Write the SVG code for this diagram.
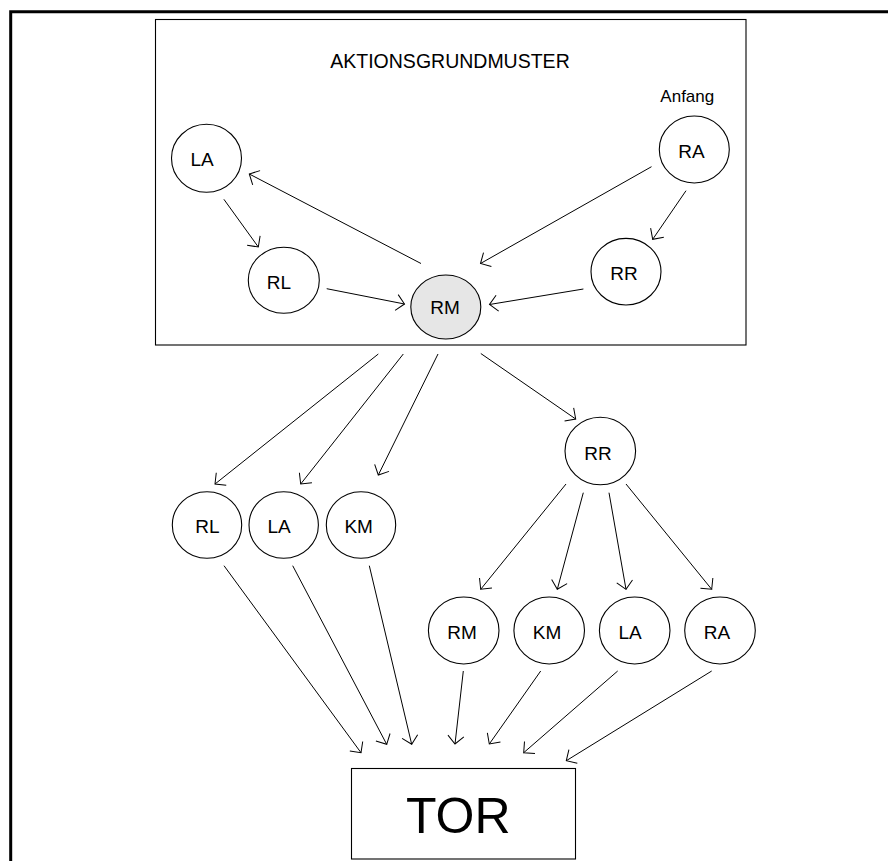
<svg xmlns="http://www.w3.org/2000/svg" width="888" height="861" viewBox="0 0 888 861">
<style>
.n{fill:#fff;stroke:#000;stroke-width:1.1}
.hl{fill:#e6e6e6}
.lb{font-family:"Liberation Sans",Arial,sans-serif;font-size:19px;text-anchor:middle;fill:#000}
.c line{stroke:#000;stroke-width:1;marker-end:url(#ah)}
.box{fill:none;stroke:#000;stroke-width:1.1}
</style>
<defs>
<marker id="ah" markerUnits="userSpaceOnUse" markerWidth="20" markerHeight="20" viewBox="-10 -10 20 20" refX="0" refY="0" orient="auto">
<path d="M-8,-8 L0,0 L-8,8" fill="none" stroke="#000" stroke-width="1"/>
</marker>
</defs>
<rect width="888" height="861" fill="#fff"/>
<path d="M10.7,861 V11.7 H888" fill="none" stroke="#000" stroke-width="3"/>

<g id="aktionsgrundmuster">
<rect class="box" x="155.5" y="19.5" width="590.5" height="325.5"/>
<text x="450" y="68.3" style="font-family:'Liberation Sans',Arial,sans-serif;font-size:19.5px;text-anchor:middle">AKTIONSGRUNDMUSTER</text>
<text x="687.3" y="101.5" style="font-family:'Liberation Sans',Arial,sans-serif;font-size:17px;text-anchor:middle">Anfang</text>
</g>

<g id="top-LA"><ellipse class="n" cx="206.5" cy="158.3" rx="35" ry="34"/><text class="lb" x="202" y="165.7">LA</text></g>
<g id="top-RL"><ellipse class="n" cx="283.8" cy="280.3" rx="35.5" ry="33"/><text class="lb" x="279" y="289">RL</text></g>
<g id="top-RM"><ellipse class="n hl" cx="445.8" cy="307" rx="35" ry="32"/><text class="lb" x="445" y="313.5">RM</text></g>
<g id="top-RA"><ellipse class="n" cx="694.3" cy="149.5" rx="35" ry="33.5"/><text class="lb" x="691.5" y="158.3">RA</text></g>
<g id="top-RR"><ellipse class="n" cx="626" cy="271.7" rx="35" ry="33.3"/><text class="lb" x="624" y="280">RR</text></g>

<g id="mid-RR"><ellipse class="n" cx="600.3" cy="451" rx="35.3" ry="33.8"/><text class="lb" x="598" y="460">RR</text></g>

<g id="row1-RL"><ellipse class="n" cx="207" cy="525" rx="34.7" ry="33.3"/><text class="lb" x="207.5" y="533.3">RL</text></g>
<g id="row1-LA"><ellipse class="n" cx="283.7" cy="525" rx="34.7" ry="33.3"/><text class="lb" x="279" y="533.3">LA</text></g>
<g id="row1-KM"><ellipse class="n" cx="361" cy="525" rx="34.7" ry="33.3"/><text class="lb" x="358.7" y="533.3">KM</text></g>

<g id="row2-RM"><ellipse class="n" cx="463.7" cy="630.5" rx="35.3" ry="33.5"/><text class="lb" x="462" y="639.3">RM</text></g>
<g id="row2-KM"><ellipse class="n" cx="549.2" cy="630.5" rx="35.3" ry="33.5"/><text class="lb" x="547" y="639.3">KM</text></g>
<g id="row2-LA"><ellipse class="n" cx="634.7" cy="630.5" rx="35.3" ry="33.5"/><text class="lb" x="630" y="639.3">LA</text></g>
<g id="row2-RA"><ellipse class="n" cx="720" cy="630.5" rx="35.3" ry="33.5"/><text class="lb" x="717" y="639.3">RA</text></g>

<g id="TOR"><rect class="box" x="351.5" y="768.5" width="224" height="90.5"/><text x="458.3" y="833.3" style="font-family:'Liberation Sans',Arial,sans-serif;font-size:50px;text-anchor:middle">TOR</text></g>

<g id="connectors" class="c">
<line x1="223.9" y1="199.3" x2="258.3" y2="247"/>
<line x1="421" y1="263.5" x2="249.3" y2="174"/>
<line x1="651.5" y1="166.7" x2="480.5" y2="263.5"/>
<line x1="686" y1="190.7" x2="652.7" y2="239.3"/>
<line x1="326.7" y1="288.7" x2="404.5" y2="304"/>
<line x1="583.4" y1="289" x2="489.5" y2="304.5"/>

<line x1="378.3" y1="354" x2="215" y2="484"/>
<line x1="403.3" y1="354" x2="300.7" y2="484"/>
<line x1="438" y1="354" x2="378.3" y2="475"/>
<line x1="480.8" y1="353.5" x2="575.7" y2="419"/>

<line x1="566" y1="484" x2="480.7" y2="589.3"/>
<line x1="583.3" y1="492.7" x2="557.3" y2="589.3"/>
<line x1="609" y1="492.7" x2="626" y2="589.3"/>
<line x1="626" y1="484" x2="711.7" y2="589.3"/>

<line x1="224" y1="565.7" x2="361" y2="752.7"/>
<line x1="292.7" y1="565.7" x2="386.7" y2="744.3"/>
<line x1="369.3" y1="565.7" x2="411.7" y2="744.3"/>
<line x1="463.3" y1="671" x2="455" y2="744"/>
<line x1="540.7" y1="671" x2="489.3" y2="744"/>
<line x1="617.7" y1="671" x2="523.7" y2="752.7"/>
<line x1="711.7" y1="671" x2="566.3" y2="760.7"/>
</g>
</svg>
